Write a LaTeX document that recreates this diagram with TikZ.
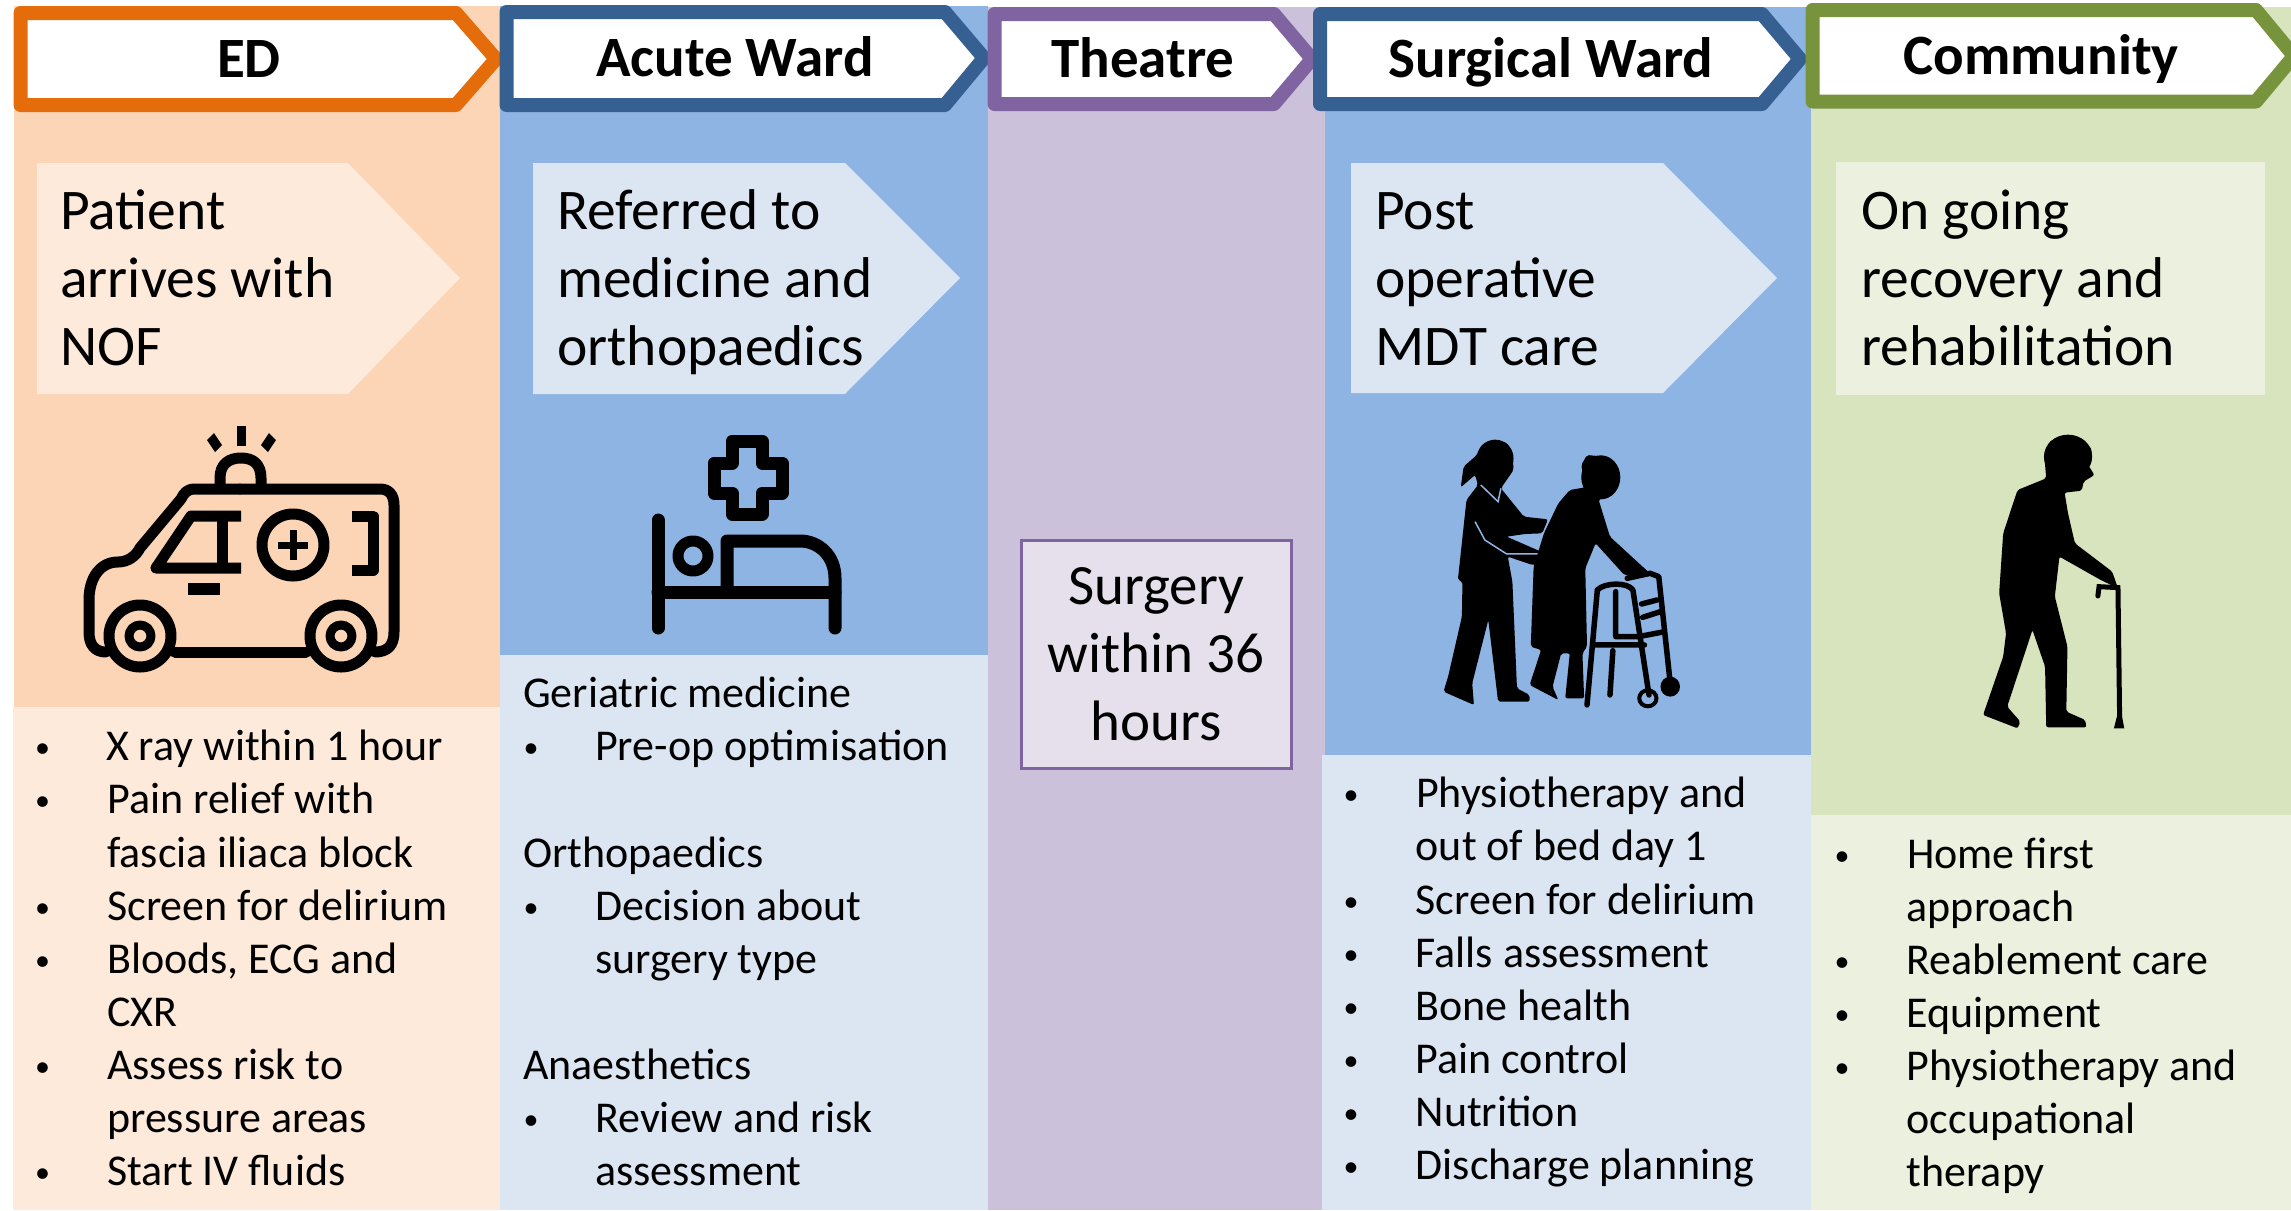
\documentclass[tikz,border=0pt]{standalone}
\usepackage{fontspec}
\setmainfont{Carlito}
\definecolor{edbg}{HTML}{FBD5B5}\definecolor{edlt}{HTML}{FDEADA}\definecolor{edln}{HTML}{E46C0A}
\definecolor{blbg}{HTML}{8EB4E3}\definecolor{bllt}{HTML}{DCE6F2}\definecolor{blln}{HTML}{376092}
\definecolor{pubg}{HTML}{CCC1DA}\definecolor{pult}{HTML}{E6E0EC}\definecolor{puln}{HTML}{8064A2}
\definecolor{grbg}{HTML}{D7E4BD}\definecolor{grlt}{HTML}{EBF1DE}\definecolor{grln}{HTML}{77933C}
\newcommand{\bwid}{72pt}
\newcommand{\dotm}{\raisebox{3pt}{\fontsize{30pt}{30pt}\selectfont •}}
\newcommand{\blt}[1]{\strut\makebox[\bwid][l]{\dotm}#1\\}
\newcommand{\cnt}[1]{\strut\hspace*{\bwid}#1\\}
\tikzset{
 hdr/.style={draw=#1,fill=white,line width=14pt,line join=round},
 hdrtxt/.style={font=\fontsize{57pt}{60pt}\selectfont\bfseries,inner sep=0pt,anchor=mid},
 leadtxt/.style={font=\fontsize{57.5pt}{68pt}\selectfont,align=left,inner sep=0pt,anchor=north west},
 listtxt/.style={font=\fontsize{44pt}{53.1pt}\selectfont,align=left,inner sep=0pt,anchor=north west},
 ico/.style={draw=black,line width=11pt,line join=round,line cap=round},
 sil/.style={fill=black,rounded corners=2pt},
 frame/.style={draw=black,line width=5.5pt,line cap=round,line join=round},
}
\begin{document}
\begin{tikzpicture}[x=1pt,y=-1pt]
\useasboundingbox (0,0) rectangle (2291,1210);
\clip (0,0) rectangle (2291,1210);
% bands
\fill[edbg] (14,6) rectangle (500,1210);
\fill[blbg] (500,6) rectangle (988,1210);
\fill[pubg] (988,7) rectangle (1325,1210);
\fill[blbg] (1325,7) rectangle (1811,1210);
\fill[grbg] (1811,7) rectangle (2291,1210);
% lower panels
\fill[edlt] (13,707) rectangle (500,1210);
\fill[bllt] (500,655) rectangle (988,1210);
\fill[bllt] (1322,755) rectangle (1811,1210);
\fill[grlt] (1811,815) rectangle (2291,1210);
% header chevrons
\path[hdr=edln] (20.5,13) -- (456,13) -- (496,59) -- (456,105) -- (20.5,105) -- cycle;
\path[hdr=blln] (506.5,12) -- (945,12) -- (984,58) -- (945,105) -- (506.5,105) -- cycle;
\path[hdr=puln] (994.5,14) -- (1274,14) -- (1312,59) -- (1274,104) -- (994.5,104) -- cycle;
\path[hdr=blln] (1320,14) -- (1762,14) -- (1800,59) -- (1762,104) -- (1320,104) -- cycle;
\path[hdr=grln] (1812.5,10) -- (2256,10) -- (2294,56) -- (2256,101.5) -- (1812.5,101.5) -- cycle;
\node[hdrtxt] (hed) at (249,75.5) {ED};
\node[hdrtxt] (hac) at (735,74.5) {Acute Ward};
\node[hdrtxt] (hth) at (1143,75.5) {Theatre};
\node[hdrtxt] (hsu) at (1551,75.5) {Surgical Ward};
\node[hdrtxt] (hco) at (2041,72.5) {Community};
% lead chevrons
\fill[edlt] (37,163) -- (348,163) -- (460,278) -- (348,394) -- (37,394) -- cycle;
\fill[bllt] (533,163) -- (845,163) -- (960,278) -- (845,394) -- (533,394) -- cycle;
\fill[bllt] (1351,163) -- (1663,163) -- (1777,278) -- (1663,393) -- (1351,393) -- cycle;
\fill[grlt] (1836,162) rectangle (2265,395);
\node[leadtxt] (led) at (60,182) {\strut Patient\\arrives with\\NOF};
\node[leadtxt] (lac) at (557,182) {\strut Referred to\\medicine and\\orthopaedics};
\node[leadtxt] (lsu) at (1375,182) {\strut Post\\operative\\MDT care};
\node[leadtxt] (lco) at (1861,182) {\strut On going\\recovery and\\rehabilitation};
% theatre box
\node[draw=puln,fill=pult,line width=3pt,minimum width=270pt,minimum height=228pt,inner sep=0pt] (tbox) at (1156,654) {};
\node[font=\fontsize{57pt}{68pt}\selectfont,align=center,inner sep=0pt] (ttxt) at (tbox.center) {Surgery\\within 36\\hours};
% lists
\node[listtxt] (ed) at (35,723.5) {\renewcommand{\bwid}{71pt}\blt{X ray within 1 hour}\blt{Pain relief with}\cnt{fascia iliaca block}\blt{Screen for delirium}\blt{Bloods, ECG and}\cnt{CXR}\blt{Assess risk to}\cnt{pressure areas}\blt{Start IV fluids}};
\node[listtxt] (ac) at (523,670.5) {\strut Geriatric medicine\\\strut\hspace*{0.5pt}\makebox[71.5pt][l]{\dotm}Pre-op optimisation\\\strut\\\strut Orthopaedics\\\strut\hspace*{0.5pt}\makebox[71.5pt][l]{\dotm}Decision about\\\strut\hspace*{72pt}surgery type\\\strut\\\strut Anaesthetics\\\strut\hspace*{0.5pt}\makebox[71.5pt][l]{\dotm}Review and risk\\\strut\hspace*{72pt}assessment};
\node[listtxt] (su) at (1343.5,770.5) {\renewcommand{\bwid}{72.5pt}\blt{Physiotherapy and}\cnt{out of bed day 1}\blt{Screen for delirium}\blt{Falls assessment}\blt{Bone health}\blt{Pain control}\blt{Nutrition}\blt{Discharge planning}};
\node[listtxt] (co) at (1834.5,831) {\renewcommand{\bwid}{72.5pt}\blt{Home first}\cnt{approach}\blt{Reablement care}\blt{Equipment}\blt{Physiotherapy and}\cnt{occupational}\cnt{therapy}};
% ambulance
\draw[ico] (240,489) -- (195,489) .. controls (187,489) and (184,493) .. (181,499) -- (140,548) .. controls (136,556) and (128,562) .. (118,562) .. controls (100,562) and (89,578) .. (89,600) -- (89,632) .. controls (89,645) and (95,652) .. (106,652);
\draw[ico] (175,652) -- (306,652);
\draw[ico] (375,652) .. controls (388,652) and (394,645) .. (394,632) -- (394,505) .. controls (394,495) and (389,489) .. (380,489) -- (240,489);
\draw[ico] (140,636) circle[radius=31];
\draw[ico] (341,636) circle[radius=31];
\draw[ico,line width=9pt] (140,636) circle[radius=11];
\draw[ico,line width=9pt] (341,636) circle[radius=11];
\draw[ico,line cap=butt] (220,489) -- (220,478) .. controls (220,464) and (229,458) .. (241,458) .. controls (253,458) and (261,464) .. (261,478) -- (261,489);
\fill (237,426) rectangle (246,446);
\fill (207,440) -- (214,433) -- (222,445) -- (215,452) -- cycle;
\fill (276,440) -- (269,433) -- (261,445) -- (268,452) -- cycle;
\draw[ico,line cap=butt] (241,516) -- (191,516) -- (156,568) -- (241,568);
\draw[ico,line cap=butt] (222,516) -- (222,568);
\draw[ico] (293,545) circle[radius=31];
\draw[line width=7pt] (293,530) -- (293,560) (278,545) -- (308,545);
\draw[ico,line cap=butt] (352,516) -- (373,516) -- (373,570) -- (352,570);
\fill (188,583) rectangle (220,595);
% bed
\draw[ico,line width=13pt] (658,520) -- (658,628);
\draw[ico,line width=13pt] (658,592) -- (835,592);
\draw[ico,line width=13pt] (835,628) -- (835,578) .. controls (835,555) and (818,541) .. (800,541) -- (727,541) -- (727,592);
\draw[ico,line width=11pt] (693,556) circle[radius=15];
\draw[ico,line width=13pt] (732,441) -- (762,441) -- (762,463) -- (782,463) -- (782,493) -- (762,493) -- (762,514) -- (732,514) -- (732,493) -- (714,493) -- (714,463) -- (732,463) -- cycle;
% nurse, patient, walking frame
\begin{scope}[shift={(1300,400)},x=0.574pt,y=-0.3333pt]
\fill[sil] (308,165) -- (318,132) -- (338,120) -- (360,128) -- (370,155) -- (372,210) -- (358,245) -- (350,265) -- (390,350) -- (432,358) -- (422,400) -- (392,402) -- (360,410) -- (420,455) -- (432,490) -- (405,495) -- (362,470) -- (370,545) -- (378,865) -- (400,885) -- (400,905) -- (345,905) -- (342,860) -- (328,660) -- (300,850) -- (303,915) -- (250,875) -- (258,830) -- (282,650) -- (283,545) -- (275,540) -- (290,300) -- (310,255) -- (305,225) -- (280,262) -- (285,200) -- cycle;
\fill (340,175) ellipse[x radius=32,y radius=56];
\draw[blbg,line width=1.5pt] (315,255) -- (345,305) -- (350,265);
\draw[blbg,line width=1.5pt] (305,365) -- (322,420) -- (360,462) -- (420,462) -- (430,490);
\fill[sil] (490,195) -- (500,165) -- (530,170) -- (555,205) -- (556,250) -- (545,280) -- (520,298) -- (540,410) -- (600,505) -- (610,520) -- (590,530) -- (565,525) -- (515,430) -- (497,505) -- (500,740) -- (492,760) -- (495,895) -- (462,895) -- (470,760) -- (455,760) -- (440,860) -- (450,900) -- (400,855) -- (420,750) -- (402,740) -- (407,500) -- (425,400) -- (450,310) -- (470,270) -- (497,262) -- cycle;
\fill (524,232) ellipse[x radius=34,y radius=66];
\draw[frame] (518,570) -- (500,915);
\draw[frame] (518,570) .. controls (530,548) and (570,545) .. (580,570) -- (608,885);
\draw[frame] (570,535) -- (610,520) -- (625,530) -- (645,850);
\draw[frame] (510,735) -- (600,735) (595,612) -- (622,600) (597,652) -- (628,635) (550,575) -- (550,710) -- (590,710) -- (632,696) (545,752) -- (540,885);
\fill (645,860) ellipse[x radius=17,y radius=30];
\draw[line width=4pt] (606,895) ellipse[x radius=15,y radius=24];
\end{scope}
% walking man and cane
\begin{scope}[shift={(1300,400)},x=0.574pt,y=-0.3333pt]
\fill[sil] (1297,175) -- (1305,125) -- (1335,105) -- (1365,118) -- (1380,150) -- (1373,195) -- (1384,225) -- (1365,245) -- (1362,272) -- (1332,278) -- (1338,340) -- (1350,430) -- (1415,515) -- (1425,565) -- (1395,540) -- (1323,470) -- (1315,590) -- (1337,740) -- (1335,935) -- (1368,960) -- (1370,982) -- (1300,982) -- (1298,800) -- (1276,690) -- (1232,920) -- (1255,965) -- (1250,985) -- (1190,945) -- (1225,770) -- (1230,700) -- (1218,580) -- (1225,400) -- (1250,270) -- (1300,235) -- cycle;
\fill (1338,170) ellipse[x radius=42,y radius=66];
\draw[line width=5pt,line cap=round] (1390,588) -- (1392,560) -- (1425,563) -- (1428,970);
\fill (1418,985) -- (1436,985) -- (1432,950) -- (1423,950) -- cycle;
\end{scope}
\end{tikzpicture}
\end{document}
